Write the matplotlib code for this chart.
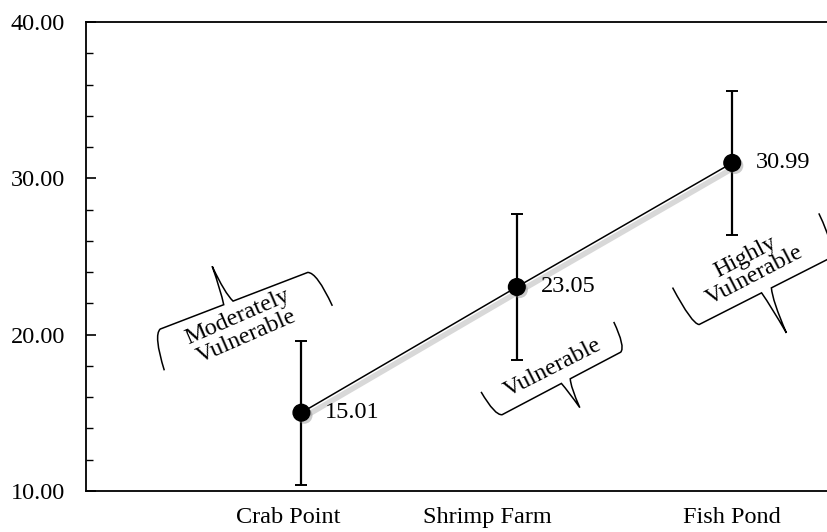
import matplotlib
matplotlib.use("Agg")
import matplotlib.pyplot as plt
import matplotlib.patheffects as pe
from matplotlib.path import Path
from matplotlib.patches import PathPatch
from matplotlib.transforms import Affine2D, ScaledTranslation

# ---- data ----
categories = ["Crab Point", "Shrimp Farm", "Fish Pond"]
means = [15.01, 23.05, 30.99]
errors = [4.6, 4.65, 4.6]
value_labels = ["15.01", "23.05", "30.99"]
yticks = [10, 20, 30, 40]
vuln_labels = ["Moderately\nVulnerable", "Vulnerable", "Highly\nVulnerable"]

plt.rcParams['font.family'] = ['Liberation Serif', 'DejaVu Serif']
FS = 17.5

fig = plt.figure(figsize=(8.27, 5.32), dpi=100)
ax = fig.add_axes([0.104, 0.0771, 0.896, 0.8815])

xpos = [1, 2, 3]
ax.set_xlim(0, 3.44)
ax.set_ylim(10, 40)

# connecting line with soft shadow
ax.plot(xpos, means, color='black', lw=1.1, zorder=3,
        path_effects=[pe.SimpleLineShadow(offset=(2, -3), shadow_color='gray', alpha=0.3, linewidth=4),
                      pe.Normal()])
# error bars
ax.errorbar(xpos, means, yerr=errors, fmt='none', ecolor='black',
            elinewidth=1.6, capsize=4.5, capthick=1.4, zorder=4)
# markers
ax.plot(xpos, means, linestyle='none', marker='o', markersize=12,
        color='black', zorder=5,
        path_effects=[pe.SimplePatchShadow(offset=(2, -2), shadow_rgbFace='gray', alpha=0.4),
                      pe.Normal()])

for x, y, t in zip(xpos, means, value_labels):
    ax.annotate(t, (x, y), xytext=(17, 0), textcoords='offset points',
                ha='left', va='center', fontsize=FS, zorder=6)

# axes styling
ax.spines['right'].set_visible(False)
for s in ['left', 'top', 'bottom']:
    ax.spines[s].set_linewidth(1.3)
ax.set_yticks(yticks)
ax.set_yticklabels([f"{v:.2f}" for v in yticks], fontsize=FS)
ax.set_yticks([12, 14, 16, 18, 22, 24, 26, 28, 32, 34, 36, 38], minor=True)
ax.tick_params(axis='y', which='major', direction='in', length=7, width=1.2, pad=15)
ax.tick_params(axis='y', which='minor', direction='in', length=5, width=1.0)
label_x = [0.94, 1.861, 2.998]
ax.set_xticks(label_x)
ax.set_xticklabels(categories, fontsize=FS)
ax.tick_params(axis='x', length=0, pad=11.5)

# ---- bracket callouts ----
def brace(anchor, angle, half, ex, ey, nl, nr, tx, ty):
    verts = [(-half - ex, ey), (-half - ex * 0.6, ey * 0.08), (-half + 5, 0),
             (nl, 0), (nl + (tx - nl) * 0.1 + 2, ty * 0.35), (tx, ty),
             (tx + (nr - tx) * 0.3, ty * 0.25), (nr, 0),
             (half - 5, 0), (half + ex * 0.6, ey * 0.08), (half + ex, ey)]
    codes = [Path.MOVETO, Path.CURVE3, Path.CURVE3,
             Path.LINETO, Path.CURVE3, Path.CURVE3,
             Path.CURVE3, Path.CURVE3,
             Path.LINETO, Path.CURVE3, Path.CURVE3]
    tr = Affine2D().rotate_deg(angle) + ScaledTranslation(anchor[0], anchor[1], ax.transData)
    patch = PathPatch(Path(verts, codes), facecolor='none', edgecolor='black',
                      lw=1.1, transform=tr, clip_on=False, zorder=2)
    ax.add_patch(patch)

brace((0.687, 22.17), 21, 84, 6, -40, -11, -1, -8, 40)
brace((2.207, 16.88), 27.8, 72, 3, 30, 0, 10, 5, -30)
brace((3.157, 22.82), 26.9, 80, 2, 45, -5, 6, -1, -47)

text_pos = [(0.724, 20.49, 23.5), (2.167, 17.87, 27), (3.081, 24.39, 27.5)]
for (x, y, r), t in zip(text_pos, vuln_labels):
    ax.text(x, y, t, rotation=r, rotation_mode='anchor', ha='center', va='center',
            fontsize=FS, linespacing=1.0, zorder=6)

fig.savefig("out.png", dpi=100)
